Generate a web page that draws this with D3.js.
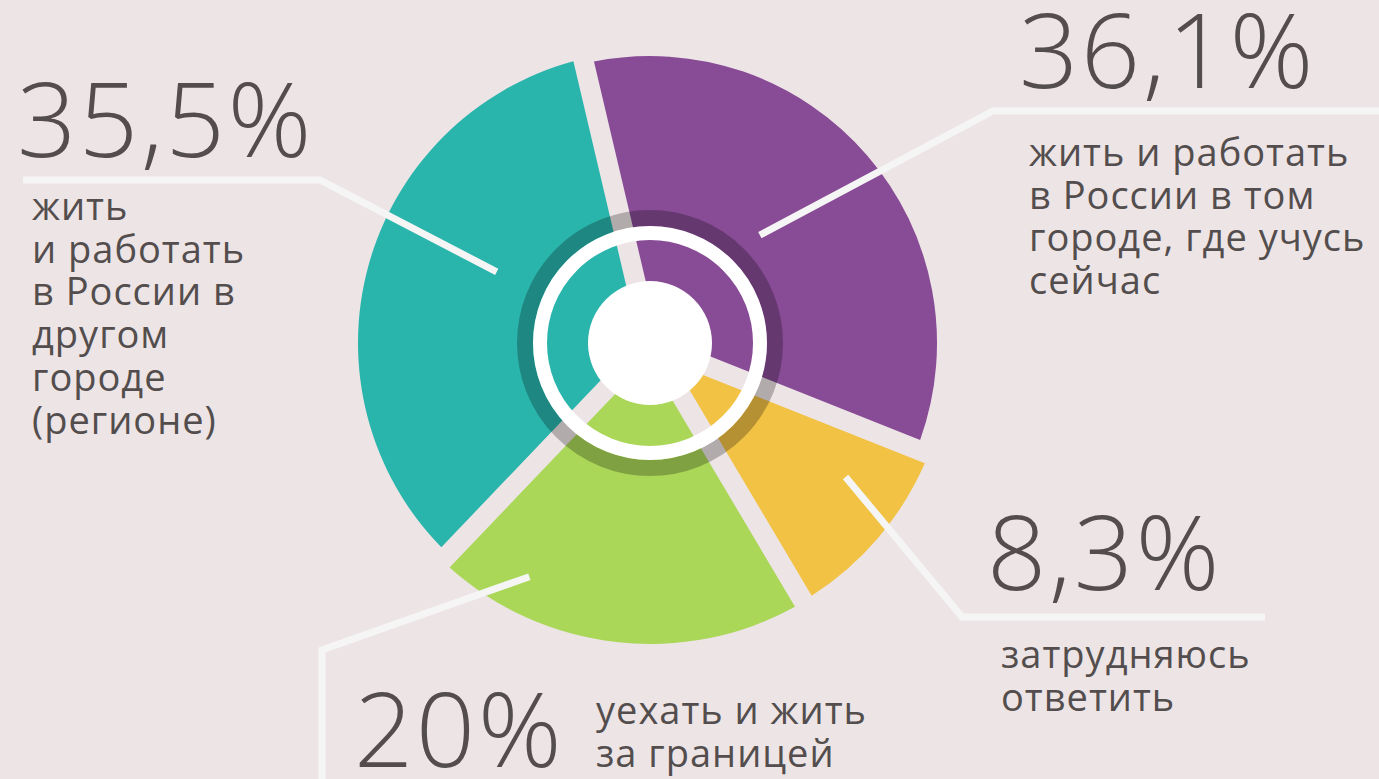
<!DOCTYPE html>
<html lang="ru">
<head>
  <meta charset="UTF-8">
  <title>Планы после учёбы</title>
  <style>
    html, body {
      margin: 0;
      padding: 0;
      background: #ede4e6;
    }

    #chart {
      width: 1379px;
      height: 779px;
    }

    text {
      font-family: 'Open Sans', sans-serif;
      fill: #534e4d;
    }

    .pct {
      font-size: 104px;
      font-weight: 300;
      letter-spacing: 2.5px;
    }

    .label {
      font-size: 38px;
      font-weight: 400;
      letter-spacing: 1px;
    }

    .leader {
      fill: none;
      stroke: #f5f5f5;
      stroke-width: 7;
    }
  </style>
</head>

<body>
  <div id="chart"></div>

  <script src="https://cdn.jsdelivr.net/npm/d3@7/dist/d3.min.js"></script>
  <script>
    // data, in the order the slices go round (clockwise from the top)
    const answers = ['same city', 'unsure', 'abroad', 'other city'];
    const shares = [36.1, 8.3, 20, 35.5];
    const pctLabels = ['36,1%', '8,3%', '20%', '35,5%'];
    const answerLines = [
      ['жить и работать', 'в России в том', 'городе, где учусь', 'сейчас'],
      ['затрудняюсь', 'ответить'],
      ['уехать и жить', 'за границей'],
      ['жить', 'и работать', 'в России в', 'другом', 'городе', '(регионе)']
    ];
    const colors = ['#884b96', '#f2c244', '#abd759', '#2ab5ac'];

    // layout
    const width = 1379, height = 779;
    const center = { x: 650, y: 343 };
    const outerRadii = [287, 300, 301, 292];
    const lineHeight = 42.7;

    // where each annotation sits: leader (inner end given as angle/radius from the centre,
    // then elbow + end), big number, and the text block
    const notes = [
      { angle: 45.5, r: 154, path: [[993, 111], [1379, 111]], pct: [1019, 88], text: [1029, 166] },
      { angle: 124.4, r: 237, path: [[962, 617], [1265, 617]], pct: [987, 590], text: [1001, 668] },
      { angle: 207.3, r: 263, path: [[322, 650], [322, 779]], pct: [354, 767], text: [596, 724] },
      { angle: 294.9, r: 169, path: [[320, 180], [23, 180]], pct: [17, 157], text: [32, 220] }
    ];

    const color = d3.scaleOrdinal(answers, colors);

    const svg = d3.select('#chart').append('svg')
      .attr('width', width)
      .attr('height', height);

    const startAngle = -13.25 * Math.PI / 180;
    const pie = d3.pie()
      .sort(null)
      .value(d => d.share)
      .startAngle(startAngle)
      .endAngle(startAngle + 2 * Math.PI)
      .padAngle(0.2);

    const arc = d3.arc()
      .innerRadius(58)
      .outerRadius(d => outerRadii[d.index])
      .padRadius(100);

    const data = answers.map((a, i) => ({ answer: a, share: shares[i] }));

    const g = svg.append('g')
      .attr('transform', `translate(${center.x},${center.y})`);

    g.selectAll('.slice')
      .data(pie(data))
      .enter().append('path')
      .attr('class', 'slice')
      .attr('d', arc)
      .style('fill', d => color(d.data.answer));

    // shadow ring, white ring and the hub
    g.append('circle')
      .attr('r', 125)
      .style('fill', 'none')
      .style('stroke', '#000')
      .style('stroke-opacity', 0.25)
      .style('stroke-width', 16);
    g.append('circle')
      .attr('r', 110)
      .style('fill', 'none')
      .style('stroke', '#fff')
      .style('stroke-width', 14);
    g.append('circle')
      .attr('r', 62)
      .style('fill', '#fff');

    // leader lines
    const polar = (angle, r) => {
      let a = angle * Math.PI / 180;
      return [center.x + r * Math.sin(a), center.y - r * Math.cos(a)];
    };
    svg.selectAll('.leader')
      .data(notes)
      .enter().append('polyline')
      .attr('class', 'leader')
      .attr('points', d => [polar(d.angle, d.r)].concat(d.path).map(p => p.join(',')).join(' '));

    // big numbers
    svg.selectAll('.pct')
      .data(notes)
      .enter().append('text')
      .attr('class', 'pct')
      .attr('x', d => d.pct[0])
      .attr('y', d => d.pct[1])
      .text((d, i) => pctLabels[i]);

    // answer texts
    const labels = svg.selectAll('.label')
      .data(notes)
      .enter().append('text')
      .attr('class', 'label')
      .attr('x', d => d.text[0])
      .attr('y', d => d.text[1]);
    labels.selectAll('tspan')
      .data((d, i) => answerLines[i].map(line => ({ line, x: d.text[0] })))
      .enter().append('tspan')
      .attr('x', d => d.x)
      .attr('dy', (d, j) => j === 0 ? 0 : lineHeight)
      .text(d => d.line);
  </script>
</body>

</html>
